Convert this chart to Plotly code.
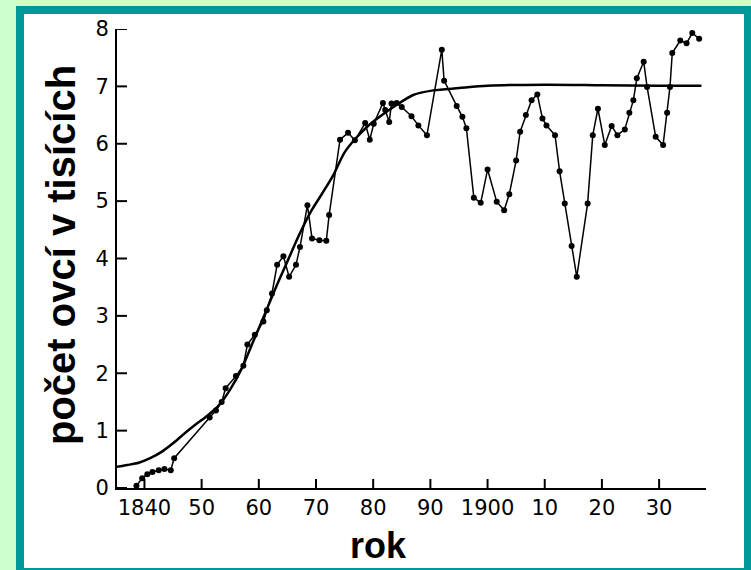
import plotly.graph_objects as go

obs_year = [1838.6, 1839.6, 1840.5, 1841.4, 1842.5, 1843.5, 1844.6, 1845.2,
            1851.4, 1852.5, 1853.5, 1854.2, 1856.0, 1857.3, 1858.0, 1859.3,
            1860.8, 1861.4, 1862.3, 1863.2, 1864.3, 1865.3, 1866.5, 1867.2,
            1868.5, 1869.3, 1870.6, 1871.8, 1872.3, 1874.2, 1875.6, 1876.8,
            1878.6, 1879.4, 1880.1, 1881.7, 1882.1, 1882.8, 1883.2, 1884.1,
            1885.0, 1886.7, 1887.9, 1889.4, 1892.0, 1892.4, 1894.6, 1895.6,
            1896.3, 1897.6, 1898.8, 1900.0, 1901.6, 1902.9, 1903.8, 1905.0,
            1905.7, 1906.7, 1907.7, 1908.7, 1909.6, 1910.3, 1911.8, 1912.6,
            1913.5, 1914.7, 1915.6, 1917.5, 1918.4, 1919.3, 1920.5, 1921.7,
            1922.7, 1924.0, 1924.8, 1925.5, 1926.1, 1927.3, 1927.9, 1929.4,
            1930.7, 1931.4, 1931.9, 1932.3, 1933.7, 1934.8, 1935.8, 1937.0]
obs_value = [0.04, 0.17, 0.24, 0.28, 0.31, 0.33, 0.31, 0.52,
             1.23, 1.35, 1.50, 1.74, 1.95, 2.13, 2.50, 2.67,
             2.90, 3.10, 3.39, 3.89, 4.04, 3.68, 3.89, 4.20,
             4.93, 4.35, 4.32, 4.31, 4.76, 6.07, 6.19, 6.06,
             6.36, 6.07, 6.35, 6.71, 6.59, 6.38, 6.70, 6.71,
             6.64, 6.48, 6.32, 6.15, 7.64, 7.10, 6.66, 6.47,
             6.27, 5.06, 4.97, 5.55, 4.99, 4.84, 5.12, 5.71,
             6.21, 6.50, 6.76, 6.86, 6.44, 6.32, 6.15, 5.52,
             4.96, 4.22, 3.68, 4.96, 6.15, 6.61, 5.98, 6.31,
             6.15, 6.25, 6.54, 6.76, 7.14, 7.43, 6.99, 6.12,
             5.98, 6.54, 6.99, 7.58, 7.80, 7.75, 7.93, 7.83]

# fitted (logistic-looking) curve
fit_year = [1835.2, 1837, 1839, 1841, 1843, 1845, 1847, 1849, 1851, 1853,
            1855, 1857, 1859, 1861, 1863, 1865, 1867, 1869, 1871, 1873,
            1875, 1877, 1879, 1881, 1884, 1887, 1890.5, 1895, 1900, 1910,
            1920, 1930, 1937.4]
fit_value = [0.37, 0.40, 0.44, 0.52, 0.63, 0.78, 0.95, 1.11, 1.26, 1.44,
             1.72, 2.08, 2.55, 3.02, 3.50, 3.95, 4.40, 4.80, 5.12, 5.45,
             5.85, 6.10, 6.30, 6.46, 6.67, 6.85, 6.93, 6.97, 7.01, 7.03,
             7.02, 7.01, 7.01]

tick_years = [1840, 1850, 1860, 1870, 1880, 1890, 1900, 1910, 1920, 1930]
tick_labels = ["1840", "50", "60", "70", "80", "90", "1900", "10", "20", "30"]
y_ticks = [0, 1, 2, 3, 4, 5, 6, 7, 8]

X_RANGE = [1835.2, 1938.2]
Y_RANGE = [0, 8]

W, H = 751, 570
L, R, T, B = 117, 45, 29, 82
pw, ph = W - L - R, H - T - B


def px_x(p):
    return (p - L) / pw


def px_y(p):
    return (H - B - p) / ph


# inward tick marks (drawn as a trace, lengths converted from pixels to data units)
XTICK_PX, YTICK_PX = 9, 10
dy = XTICK_PX * (Y_RANGE[1] - Y_RANGE[0]) / ph
dx = YTICK_PX * (X_RANGE[1] - X_RANGE[0]) / pw
tx, ty = [], []
for t in tick_years:
    tx += [t, t, None]
    ty += [Y_RANGE[0], Y_RANGE[0] + dy, None]
for v in y_ticks:
    tx += [X_RANGE[0], X_RANGE[0] + dx, None]
    ty += [v, v, None]

fig = go.Figure()
fig.add_trace(go.Scatter(x=tx, y=ty, mode="lines", cliponaxis=False,
                         line=dict(color="black", width=2, simplify=False),
                         hoverinfo="skip", showlegend=False))
fig.add_trace(go.Scatter(x=fit_year, y=fit_value, mode="lines",
                         line=dict(color="black", width=2.5, shape="spline", smoothing=0.8),
                         hoverinfo="skip", showlegend=False))
fig.add_trace(go.Scatter(x=obs_year, y=obs_value, mode="lines+markers",
                         line=dict(color="black", width=1.5),
                         marker=dict(color="black", size=6),
                         showlegend=False))

shapes = [
    dict(type="rect", xref="paper", yref="paper", layer="below", opacity=1,
         x0=px_x(16), x1=px_x(770), y0=px_y(6), y1=px_y(590),
         fillcolor="#009999", line=dict(width=0)),
    dict(type="rect", xref="paper", yref="paper", layer="below", opacity=1,
         x0=px_x(24), x1=px_x(744), y0=px_y(14), y1=px_y(568),
         fillcolor="white", line=dict(width=0)),
]

fig.update_layout(
    width=W, height=H,
    margin=dict(l=L, r=R, t=T, b=B, pad=0),
    paper_bgcolor="#CCFFCC",
    plot_bgcolor="rgba(0,0,0,0)",
    shapes=shapes,
    showlegend=False,
    xaxis=dict(range=X_RANGE, tickmode="array",
               tickvals=tick_years, ticktext=tick_labels,
               ticks="", showline=True, linewidth=2, linecolor="black",
               showgrid=False, zeroline=False,
               tickfont=dict(family="DejaVu Sans", size=21, color="black")),
    yaxis=dict(range=Y_RANGE, tickmode="array", tickvals=y_ticks,
               ticks="", showline=True, linewidth=2, linecolor="black",
               showgrid=False, zeroline=False, ticklabelstandoff=2,
               tickfont=dict(family="DejaVu Sans", size=21, color="black")),
    annotations=[
        dict(text="počet ovcí v tisících", textangle=-90, showarrow=False,
             xref="paper", yref="paper", x=px_x(61), y=px_y(255),
             xanchor="center", yanchor="middle",
             font=dict(family="Liberation Sans", size=40, color="black", weight="bold")),
        dict(text="rok", showarrow=False,
             xref="paper", yref="paper", x=px_x(378), y=px_y(545),
             xanchor="center", yanchor="middle",
             font=dict(family="Liberation Sans", size=36, color="black", weight="bold")),
    ],
)

fig.write_html("out.html")
